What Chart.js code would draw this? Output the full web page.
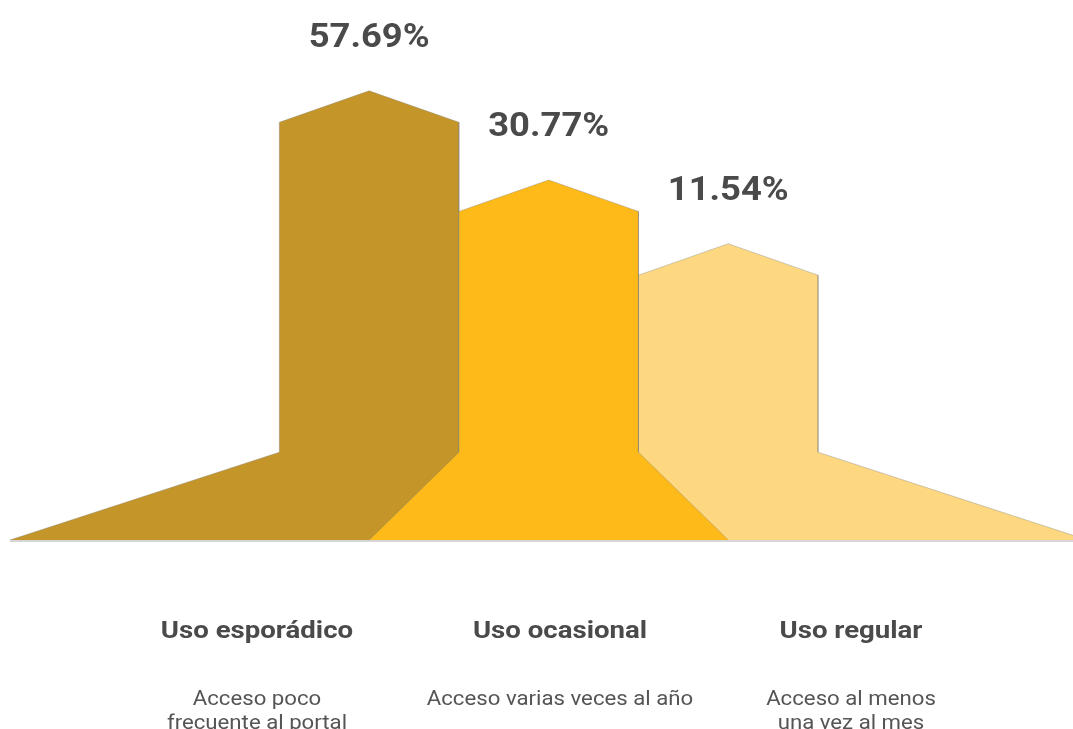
<!DOCTYPE html>
<html lang="es">
<head>
<meta charset="utf-8">
<title>Frecuencia de uso del portal</title>
<script src="https://cdn.jsdelivr.net/npm/chart.js@4.4.1/dist/chart.umd.min.js"></script>
<style>
  html, body { margin: 0; padding: 0; background: #ffffff; }
  #wrap { position: relative; width: 1073px; height: 729px; overflow: hidden; font-family: Roboto, "Noto Sans", sans-serif; }
  #chart { position: absolute; left: 0; top: 0; }
  .cat { position: absolute; top: 616px; width: 320px; margin-left: -160px; text-align: center; }
  .cat h3 { margin: 0; font-size: 23px; font-weight: 700; color: #4a4a4a; line-height: 30px; transform: scaleX(1.2); transform-origin: 50% 50%; }
  .cat p { margin: 40px 0 0 0; font-size: 20px; font-weight: 400; color: #555555; line-height: 24px; transform: scaleX(1.11); transform-origin: 50% 0; }
</style>
</head>
<body>
<div id="wrap">
  <canvas id="chart" width="1073" height="729"></canvas>
</div>
<script>
// Usage categories and their share of users (%)
const categories = ['Uso esporádico', 'Uso ocasional', 'Uso regular'];
const shares = [57.69, 30.77, 11.54];
const descriptions = [
  ['Acceso poco', 'frecuente al portal'],
  ['Acceso varias veces al año'],
  ['Acceso al menos', 'una vez al mes']
];
const fillColors = ['#c4962a', '#fdba18', '#fdd880'];

// Shape geometry (in axis units): every column sits on a common pedestal
const BASE = 68.4;      // height added below each share value
const SHOULDER = 26.5;  // height where the sloping foot meets the column
const ROOF = 9.5;       // rise of the pointed roof above the column
const OUTER_RUN = 3;    // horizontal run of the outermost feet
const INNER_RUN = 1;    // horizontal run of the inner feet
const X_MAX = 11.84;
const Y_MAX = 163;
const titleCenters = [257, 560, 851];

function housePoints(i, value) {
  const cx = 4 + 2 * i;
  const left = cx - 1, right = cx + 1;
  const top = BASE + value;
  const leftRun = i === 0 ? OUTER_RUN : INNER_RUN;
  const rightRun = i === shares.length - 1 ? OUTER_RUN : INNER_RUN;
  return [
    { x: left - leftRun, y: 0 },
    { x: left, y: SHOULDER },
    { x: left, y: top },
    { x: cx, y: top + ROOF },
    { x: right, y: top },
    { x: right, y: SHOULDER },
    { x: right + rightRun, y: 0 }
  ];
}

const datasets = shares.map((v, i) => ({
  label: categories[i],
  data: housePoints(i, v),
  backgroundColor: fillColors[i],
  borderColor: 'rgba(120,120,120,0.35)',
  borderWidth: 1,
  fill: 'origin',
  tension: 0,
  pointRadius: 0,
  // the middle shape overlaps its neighbours
  order: i === 1 ? 0 : 1
}));

const valueLabels = {
  id: 'valueLabels',
  afterDatasetsDraw(chart) {
    const { ctx, scales: { x, y }, chartArea } = chart;
    ctx.save();
    // baseline
    const by = y.getPixelForValue(0);
    ctx.strokeStyle = '#d6d6d6';
    ctx.lineWidth = 2;
    ctx.beginPath();
    ctx.moveTo(chartArea.left, by + 1);
    ctx.lineTo(chartArea.right, by + 1);
    ctx.stroke();
    // share labels above each roof
    ctx.fillStyle = '#4a4a4a';
    ctx.font = '700 34px Roboto';
    ctx.textAlign = 'center';
    ctx.textBaseline = 'alphabetic';
    shares.forEach((v, i) => {
      const px = x.getPixelForValue(4 + 2 * i);
      const py = y.getPixelForValue(BASE + v + ROOF);
      ctx.save();
      ctx.translate(px, py - 44);
      ctx.scale(1.07, 1);
      ctx.fillText(v.toFixed(2) + '%', 0, 0);
      ctx.restore();
    });
    ctx.restore();
  }
};

new Chart(document.getElementById('chart'), {
  type: 'line',
  data: { datasets },
  options: {
    responsive: false,
    animation: false,
    layout: { padding: { left: 10, right: 0, top: 0, bottom: 189 } },
    scales: {
      x: { type: 'linear', min: 0, max: X_MAX, display: false },
      y: { type: 'linear', min: 0, max: Y_MAX, display: false }
    },
    plugins: { legend: { display: false }, tooltip: { enabled: false } }
  },
  plugins: [valueLabels]
});

// Category names and descriptions under the chart
const wrap = document.getElementById('wrap');
categories.forEach((name, i) => {
  const div = document.createElement('div');
  div.className = 'cat';
  div.style.left = titleCenters[i] + 'px';
  const h = document.createElement('h3');
  h.textContent = name;
  const p = document.createElement('p');
  descriptions[i].forEach((line, k) => {
    if (k > 0) p.appendChild(document.createElement('br'));
    p.appendChild(document.createTextNode(line));
  });
  div.appendChild(h);
  div.appendChild(p);
  wrap.appendChild(div);
});
</script>
</body>
</html>
